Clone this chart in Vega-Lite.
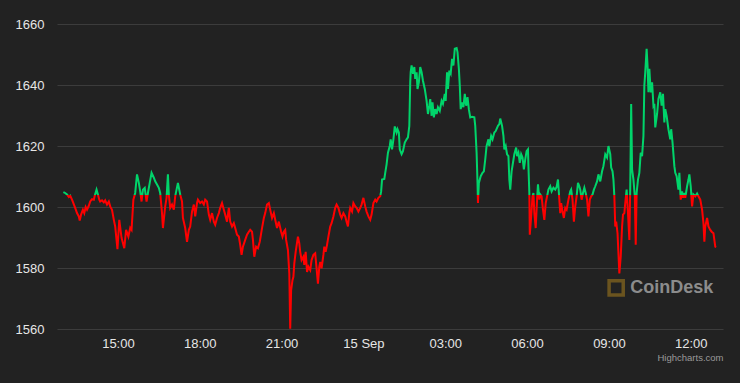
{
  "$schema": "https://vega.github.io/schema/vega-lite/v6.json",
  "width": 666,
  "height": 305,
  "autosize": {"type": "none"},
  "padding": {"left": 57, "top": 24, "right": 17, "bottom": 54},
  "background": "#222222",
  "config": {"view": {"stroke": null}},
  "layer": [
    {
      "data": {"values": [
        {"t":"2022-09-14T13:00","p":1604.9},{"t":"2022-09-14T13:04","p":1604.6},{"t":"2022-09-14T13:08","p":1604.1},{"t":"2022-09-14T13:12","p":1603.3},{"t":"2022-09-14T13:15","p":1603.7},{"t":"2022-09-14T13:19","p":1602.4},{"t":"2022-09-14T13:22","p":1601.3},{"t":"2022-09-14T13:26","p":1599.7},{"t":"2022-09-14T13:30","p":1598.0},{"t":"2022-09-14T13:34","p":1596.9},{"t":"2022-09-14T13:36","p":1595.6},{"t":"2022-09-14T13:39","p":1597.5},{"t":"2022-09-14T13:43","p":1599.1},{"t":"2022-09-14T13:46","p":1598.0},{"t":"2022-09-14T13:49","p":1600.0},{"t":"2022-09-14T13:52","p":1599.1},{"t":"2022-09-14T13:56","p":1600.4},{"t":"2022-09-14T13:59","p":1601.8},
        {"t":"2022-09-14T14:03","p":1602.6},{"t":"2022-09-14T14:07","p":1602.4},{"t":"2022-09-14T14:09","p":1603.7},{"t":"2022-09-14T14:13","p":1605.7},{"t":"2022-09-14T14:16","p":1604.1},{"t":"2022-09-14T14:19","p":1602.4},{"t":"2022-09-14T14:21","p":1601.8},{"t":"2022-09-14T14:25","p":1602.2},{"t":"2022-09-14T14:29","p":1601.5},{"t":"2022-09-14T14:32","p":1602.2},{"t":"2022-09-14T14:36","p":1600.8},{"t":"2022-09-14T14:40","p":1601.8},{"t":"2022-09-14T14:43","p":1600.2},{"t":"2022-09-14T14:47","p":1599.1},{"t":"2022-09-14T14:51","p":1595.8},{"t":"2022-09-14T14:54","p":1593.6},{"t":"2022-09-14T14:59","p":1586.2},
        {"t":"2022-09-14T15:03","p":1595.8},{"t":"2022-09-14T15:08","p":1589.9},{"t":"2022-09-14T15:14","p":1586.5},{"t":"2022-09-14T15:18","p":1592.5},{"t":"2022-09-14T15:23","p":1590.3},{"t":"2022-09-14T15:27","p":1593.2},{"t":"2022-09-14T15:30","p":1592.5},{"t":"2022-09-14T15:34","p":1602.4},{"t":"2022-09-14T15:38","p":1604.6},{"t":"2022-09-14T15:42","p":1610.7},{"t":"2022-09-14T15:46","p":1607.9},{"t":"2022-09-14T15:49","p":1605.1},{"t":"2022-09-14T15:52","p":1601.8},{"t":"2022-09-14T15:55","p":1605.7},{"t":"2022-09-14T15:59","p":1606.3},
        {"t":"2022-09-14T16:03","p":1601.8},{"t":"2022-09-14T16:06","p":1604.6},{"t":"2022-09-14T16:10","p":1607.9},{"t":"2022-09-14T16:14","p":1611.2},{"t":"2022-09-14T16:19","p":1609.6},{"t":"2022-09-14T16:22","p":1608.4},{"t":"2022-09-14T16:26","p":1607.4},{"t":"2022-09-14T16:30","p":1606.3},{"t":"2022-09-14T16:33","p":1604.6},{"t":"2022-09-14T16:37","p":1598.0},{"t":"2022-09-14T16:39","p":1593.1},{"t":"2022-09-14T16:44","p":1600.2},{"t":"2022-09-14T16:47","p":1603.0},{"t":"2022-09-14T16:50","p":1610.7},{"t":"2022-09-14T16:52","p":1604.1},{"t":"2022-09-14T16:55","p":1599.7},{"t":"2022-09-14T16:59","p":1600.8},
        {"t":"2022-09-14T17:03","p":1599.1},{"t":"2022-09-14T17:06","p":1603.5},{"t":"2022-09-14T17:12","p":1607.9},{"t":"2022-09-14T17:17","p":1604.1},{"t":"2022-09-14T17:21","p":1601.8},{"t":"2022-09-14T17:23","p":1596.4},{"t":"2022-09-14T17:28","p":1593.1},{"t":"2022-09-14T17:32","p":1588.6},{"t":"2022-09-14T17:36","p":1592.5},{"t":"2022-09-14T17:39","p":1593.6},{"t":"2022-09-14T17:43","p":1598.5},{"t":"2022-09-14T17:47","p":1600.8},{"t":"2022-09-14T17:50","p":1596.9},{"t":"2022-09-14T17:54","p":1601.3},{"t":"2022-09-14T17:56","p":1602.4},
        {"t":"2022-09-14T18:01","p":1601.3},{"t":"2022-09-14T18:05","p":1601.8},{"t":"2022-09-14T18:09","p":1600.8},{"t":"2022-09-14T18:12","p":1602.4},{"t":"2022-09-14T18:16","p":1601.8},{"t":"2022-09-14T18:20","p":1597.5},{"t":"2022-09-14T18:23","p":1595.8},{"t":"2022-09-14T18:27","p":1598.0},{"t":"2022-09-14T18:31","p":1595.2},{"t":"2022-09-14T18:34","p":1594.2},{"t":"2022-09-14T18:38","p":1596.4},{"t":"2022-09-14T18:42","p":1598.0},{"t":"2022-09-14T18:45","p":1599.7},{"t":"2022-09-14T18:49","p":1601.3},{"t":"2022-09-14T18:53","p":1599.1},{"t":"2022-09-14T18:56","p":1597.5},
        {"t":"2022-09-14T19:00","p":1595.2},{"t":"2022-09-14T19:04","p":1599.7},{"t":"2022-09-14T19:07","p":1595.2},{"t":"2022-09-14T19:11","p":1593.6},{"t":"2022-09-14T19:15","p":1594.7},{"t":"2022-09-14T19:18","p":1593.1},{"t":"2022-09-14T19:22","p":1590.9},{"t":"2022-09-14T19:26","p":1590.3},{"t":"2022-09-14T19:29","p":1587.6},{"t":"2022-09-14T19:32","p":1584.3},{"t":"2022-09-14T19:35","p":1587.0},{"t":"2022-09-14T19:40","p":1589.2},{"t":"2022-09-14T19:44","p":1590.9},{"t":"2022-09-14T19:48","p":1591.9},{"t":"2022-09-14T19:51","p":1592.5},{"t":"2022-09-14T19:55","p":1591.9},{"t":"2022-09-14T19:57","p":1589.2},
        {"t":"2022-09-14T20:00","p":1583.7},{"t":"2022-09-14T20:04","p":1587.0},{"t":"2022-09-14T20:08","p":1586.5},{"t":"2022-09-14T20:12","p":1588.6},{"t":"2022-09-14T20:17","p":1593.1},{"t":"2022-09-14T20:21","p":1596.4},{"t":"2022-09-14T20:24","p":1598.0},{"t":"2022-09-14T20:28","p":1600.8},{"t":"2022-09-14T20:32","p":1601.3},{"t":"2022-09-14T20:35","p":1599.1},{"t":"2022-09-14T20:39","p":1596.4},{"t":"2022-09-14T20:43","p":1598.0},{"t":"2022-09-14T20:46","p":1595.8},{"t":"2022-09-14T20:50","p":1593.1},{"t":"2022-09-14T20:54","p":1595.2},{"t":"2022-09-14T20:59","p":1591.9},
        {"t":"2022-09-14T21:02","p":1590.3},{"t":"2022-09-14T21:05","p":1591.9},{"t":"2022-09-14T21:08","p":1592.5},{"t":"2022-09-14T21:10","p":1589.2},{"t":"2022-09-14T21:14","p":1585.9},{"t":"2022-09-14T21:17","p":1578.2},{"t":"2022-09-14T21:19","p":1560.1},{"t":"2022-09-14T21:21","p":1572.7},{"t":"2022-09-14T21:24","p":1576.0},{"t":"2022-09-14T21:26","p":1577.1},{"t":"2022-09-14T21:28","p":1581.5},{"t":"2022-09-14T21:31","p":1585.3},{"t":"2022-09-14T21:36","p":1590.3},{"t":"2022-09-14T21:39","p":1588.1},{"t":"2022-09-14T21:41","p":1585.3},{"t":"2022-09-14T21:44","p":1582.6},{"t":"2022-09-14T21:48","p":1583.7},{"t":"2022-09-14T21:50","p":1581.0},{"t":"2022-09-14T21:53","p":1585.3},{"t":"2022-09-14T21:56","p":1578.7},{"t":"2022-09-14T21:59","p":1580.4},
        {"t":"2022-09-14T22:03","p":1579.3},{"t":"2022-09-14T22:06","p":1582.6},{"t":"2022-09-14T22:10","p":1584.3},{"t":"2022-09-14T22:14","p":1584.8},{"t":"2022-09-14T22:17","p":1579.9},{"t":"2022-09-14T22:20","p":1574.9},{"t":"2022-09-14T22:23","p":1580.4},{"t":"2022-09-14T22:25","p":1582.0},{"t":"2022-09-14T22:28","p":1579.9},{"t":"2022-09-14T22:32","p":1584.3},{"t":"2022-09-14T22:34","p":1587.0},{"t":"2022-09-14T22:37","p":1585.3},{"t":"2022-09-14T22:40","p":1587.6},{"t":"2022-09-14T22:43","p":1590.3},{"t":"2022-09-14T22:47","p":1593.6},{"t":"2022-09-14T22:50","p":1594.7},{"t":"2022-09-14T22:54","p":1596.9},{"t":"2022-09-14T22:58","p":1599.7},
        {"t":"2022-09-14T23:01","p":1600.8},{"t":"2022-09-14T23:05","p":1599.7},{"t":"2022-09-14T23:09","p":1597.5},{"t":"2022-09-14T23:12","p":1596.4},{"t":"2022-09-14T23:16","p":1598.0},{"t":"2022-09-14T23:20","p":1596.9},{"t":"2022-09-14T23:23","p":1595.2},{"t":"2022-09-14T23:26","p":1593.6},{"t":"2022-09-14T23:29","p":1598.0},{"t":"2022-09-14T23:31","p":1599.7},{"t":"2022-09-14T23:35","p":1598.5},{"t":"2022-09-14T23:38","p":1601.3},{"t":"2022-09-14T23:42","p":1600.2},{"t":"2022-09-14T23:45","p":1599.7},{"t":"2022-09-14T23:49","p":1598.5},{"t":"2022-09-14T23:53","p":1599.7},{"t":"2022-09-14T23:56","p":1600.8},
        {"t":"2022-09-15T00:00","p":1603.0},{"t":"2022-09-15T00:04","p":1600.2},{"t":"2022-09-15T00:07","p":1598.5},{"t":"2022-09-15T00:11","p":1596.9},{"t":"2022-09-15T00:15","p":1595.8},{"t":"2022-09-15T00:18","p":1597.5},{"t":"2022-09-15T00:22","p":1601.3},{"t":"2022-09-15T00:26","p":1602.4},{"t":"2022-09-15T00:29","p":1601.8},{"t":"2022-09-15T00:33","p":1603.0},{"t":"2022-09-15T00:37","p":1603.5},{"t":"2022-09-15T00:39","p":1605.1},{"t":"2022-09-15T00:41","p":1609.0},{"t":"2022-09-15T00:46","p":1609.2},{"t":"2022-09-15T00:48","p":1611.2},{"t":"2022-09-15T00:51","p":1614.0},{"t":"2022-09-15T00:54","p":1617.8},{"t":"2022-09-15T00:58","p":1620.0},
        {"t":"2022-09-15T01:00","p":1622.2},{"t":"2022-09-15T01:03","p":1618.9},{"t":"2022-09-15T01:06","p":1622.2},{"t":"2022-09-15T01:09","p":1626.4},{"t":"2022-09-15T01:13","p":1624.4},{"t":"2022-09-15T01:15","p":1625.5},{"t":"2022-09-15T01:18","p":1624.4},{"t":"2022-09-15T01:20","p":1618.9},{"t":"2022-09-15T01:24","p":1617.3},{"t":"2022-09-15T01:27","p":1618.3},{"t":"2022-09-15T01:31","p":1621.1},{"t":"2022-09-15T01:35","p":1622.2},{"t":"2022-09-15T01:38","p":1622.8},{"t":"2022-09-15T01:41","p":1626.6},{"t":"2022-09-15T01:43","p":1640.9},{"t":"2022-09-15T01:44","p":1644.2},{"t":"2022-09-15T01:46","p":1646.4},{"t":"2022-09-15T01:49","p":1643.7},{"t":"2022-09-15T01:52","p":1645.9},{"t":"2022-09-15T01:54","p":1642.0},{"t":"2022-09-15T01:57","p":1644.2},{"t":"2022-09-15T01:59","p":1638.7},
        {"t":"2022-09-15T02:02","p":1640.9},{"t":"2022-09-15T02:05","p":1645.9},{"t":"2022-09-15T02:08","p":1644.2},{"t":"2022-09-15T02:11","p":1641.4},{"t":"2022-09-15T02:15","p":1638.7},{"t":"2022-09-15T02:19","p":1634.8},{"t":"2022-09-15T02:22","p":1630.5},{"t":"2022-09-15T02:25","p":1633.2},{"t":"2022-09-15T02:27","p":1635.4},{"t":"2022-09-15T02:30","p":1629.9},{"t":"2022-09-15T02:32","p":1634.3},{"t":"2022-09-15T02:35","p":1629.4},{"t":"2022-09-15T02:38","p":1632.1},{"t":"2022-09-15T02:41","p":1630.5},{"t":"2022-09-15T02:44","p":1632.7},{"t":"2022-09-15T02:48","p":1631.5},{"t":"2022-09-15T02:52","p":1634.8},{"t":"2022-09-15T02:55","p":1633.8},{"t":"2022-09-15T02:59","p":1637.1},
        {"t":"2022-09-15T03:01","p":1634.8},{"t":"2022-09-15T03:04","p":1644.2},{"t":"2022-09-15T03:06","p":1638.7},{"t":"2022-09-15T03:09","p":1644.7},{"t":"2022-09-15T03:12","p":1643.7},{"t":"2022-09-15T03:15","p":1648.6},{"t":"2022-09-15T03:18","p":1646.4},{"t":"2022-09-15T03:21","p":1651.9},{"t":"2022-09-15T03:25","p":1652.1},{"t":"2022-09-15T03:27","p":1650.8},{"t":"2022-09-15T03:30","p":1645.3},{"t":"2022-09-15T03:32","p":1639.8},{"t":"2022-09-15T03:34","p":1632.1},{"t":"2022-09-15T03:37","p":1634.3},{"t":"2022-09-15T03:40","p":1632.7},{"t":"2022-09-15T03:43","p":1637.1},{"t":"2022-09-15T03:46","p":1633.2},{"t":"2022-09-15T03:49","p":1636.0},{"t":"2022-09-15T03:52","p":1632.0},{"t":"2022-09-15T03:55","p":1629.4},{"t":"2022-09-15T03:59","p":1629.6},
        {"t":"2022-09-15T04:04","p":1629.4},{"t":"2022-09-15T04:06","p":1626.6},{"t":"2022-09-15T04:09","p":1617.8},{"t":"2022-09-15T04:11","p":1607.9},{"t":"2022-09-15T04:12","p":1601.3},{"t":"2022-09-15T04:14","p":1607.9},{"t":"2022-09-15T04:18","p":1610.1},{"t":"2022-09-15T04:22","p":1611.2},{"t":"2022-09-15T04:25","p":1611.7},{"t":"2022-09-15T04:28","p":1615.6},{"t":"2022-09-15T04:31","p":1620.0},{"t":"2022-09-15T04:35","p":1622.2},{"t":"2022-09-15T04:37","p":1620.0},{"t":"2022-09-15T04:41","p":1623.3},{"t":"2022-09-15T04:44","p":1622.2},{"t":"2022-09-15T04:48","p":1624.4},{"t":"2022-09-15T04:51","p":1624.9},{"t":"2022-09-15T04:56","p":1626.6},{"t":"2022-09-15T04:59","p":1627.2},
        {"t":"2022-09-15T05:01","p":1629.0},{"t":"2022-09-15T05:05","p":1626.6},{"t":"2022-09-15T05:08","p":1623.3},{"t":"2022-09-15T05:10","p":1618.9},{"t":"2022-09-15T05:13","p":1620.0},{"t":"2022-09-15T05:16","p":1617.3},{"t":"2022-09-15T05:19","p":1616.7},{"t":"2022-09-15T05:21","p":1609.0},{"t":"2022-09-15T05:23","p":1605.7},{"t":"2022-09-15T05:26","p":1611.7},{"t":"2022-09-15T05:29","p":1614.5},{"t":"2022-09-15T05:32","p":1617.3},{"t":"2022-09-15T05:36","p":1619.5},{"t":"2022-09-15T05:38","p":1616.7},{"t":"2022-09-15T05:41","p":1617.8},{"t":"2022-09-15T05:44","p":1614.5},{"t":"2022-09-15T05:47","p":1617.3},{"t":"2022-09-15T05:50","p":1616.2},{"t":"2022-09-15T05:53","p":1612.3},{"t":"2022-09-15T05:56","p":1615.6},{"t":"2022-09-15T05:59","p":1618.3},
        {"t":"2022-09-15T06:02","p":1618.9},{"t":"2022-09-15T06:03","p":1613.4},{"t":"2022-09-15T06:05","p":1604.6},{"t":"2022-09-15T06:06","p":1590.9},{"t":"2022-09-15T06:09","p":1596.9},{"t":"2022-09-15T06:12","p":1603.5},{"t":"2022-09-15T06:14","p":1604.6},{"t":"2022-09-15T06:16","p":1598.0},{"t":"2022-09-15T06:19","p":1593.1},{"t":"2022-09-15T06:22","p":1602.4},{"t":"2022-09-15T06:24","p":1607.4},{"t":"2022-09-15T06:27","p":1602.4},{"t":"2022-09-15T06:29","p":1604.1},{"t":"2022-09-15T06:32","p":1603.5},{"t":"2022-09-15T06:35","p":1599.1},{"t":"2022-09-15T06:38","p":1595.8},{"t":"2022-09-15T06:41","p":1601.3},{"t":"2022-09-15T06:44","p":1603.5},{"t":"2022-09-15T06:47","p":1605.7},{"t":"2022-09-15T06:51","p":1606.8},{"t":"2022-09-15T06:54","p":1605.1},{"t":"2022-09-15T06:58","p":1606.3},
        {"t":"2022-09-15T07:02","p":1605.7},{"t":"2022-09-15T07:05","p":1606.6},{"t":"2022-09-15T07:08","p":1609.0},{"t":"2022-09-15T07:11","p":1602.4},{"t":"2022-09-15T07:13","p":1598.0},{"t":"2022-09-15T07:15","p":1601.3},{"t":"2022-09-15T07:18","p":1598.5},{"t":"2022-09-15T07:21","p":1596.4},{"t":"2022-09-15T07:24","p":1599.7},{"t":"2022-09-15T07:27","p":1599.1},{"t":"2022-09-15T07:31","p":1602.4},{"t":"2022-09-15T07:35","p":1605.1},{"t":"2022-09-15T07:37","p":1605.7},{"t":"2022-09-15T07:40","p":1602.4},{"t":"2022-09-15T07:43","p":1595.2},{"t":"2022-09-15T07:46","p":1600.2},{"t":"2022-09-15T07:49","p":1603.5},{"t":"2022-09-15T07:52","p":1607.9},{"t":"2022-09-15T07:55","p":1606.8},{"t":"2022-09-15T07:57","p":1605.7},
        {"t":"2022-09-15T08:00","p":1602.4},{"t":"2022-09-15T08:03","p":1604.6},{"t":"2022-09-15T08:06","p":1606.3},{"t":"2022-09-15T08:09","p":1604.6},{"t":"2022-09-15T08:12","p":1602.4},{"t":"2022-09-15T08:15","p":1596.9},{"t":"2022-09-15T08:18","p":1602.4},{"t":"2022-09-15T08:21","p":1603.5},{"t":"2022-09-15T08:24","p":1604.1},{"t":"2022-09-15T08:27","p":1605.7},{"t":"2022-09-15T08:30","p":1606.8},{"t":"2022-09-15T08:34","p":1608.4},{"t":"2022-09-15T08:37","p":1610.7},{"t":"2022-09-15T08:41","p":1608.4},{"t":"2022-09-15T08:45","p":1611.7},{"t":"2022-09-15T08:48","p":1613.4},{"t":"2022-09-15T08:52","p":1617.3},{"t":"2022-09-15T08:56","p":1616.2},{"t":"2022-09-15T08:59","p":1620.0},
        {"t":"2022-09-15T09:03","p":1617.3},{"t":"2022-09-15T09:05","p":1612.9},{"t":"2022-09-15T09:08","p":1611.7},{"t":"2022-09-15T09:10","p":1609.0},{"t":"2022-09-15T09:12","p":1603.5},{"t":"2022-09-15T09:14","p":1593.6},{"t":"2022-09-15T09:16","p":1595.2},{"t":"2022-09-15T09:19","p":1591.4},{"t":"2022-09-15T09:21","p":1584.8},{"t":"2022-09-15T09:23","p":1578.2},{"t":"2022-09-15T09:26","p":1583.7},{"t":"2022-09-15T09:29","p":1593.6},{"t":"2022-09-15T09:31","p":1597.5},{"t":"2022-09-15T09:34","p":1598.0},{"t":"2022-09-15T09:36","p":1601.3},{"t":"2022-09-15T09:39","p":1605.7},{"t":"2022-09-15T09:42","p":1598.0},{"t":"2022-09-15T09:45","p":1589.2},{"t":"2022-09-15T09:47","p":1606.8},{"t":"2022-09-15T09:49","p":1633.8},{"t":"2022-09-15T09:51","p":1612.3},{"t":"2022-09-15T09:54","p":1609.0},{"t":"2022-09-15T09:57","p":1603.5},{"t":"2022-09-15T09:59","p":1587.6},
        {"t":"2022-09-15T10:01","p":1604.6},{"t":"2022-09-15T10:04","p":1609.0},{"t":"2022-09-15T10:07","p":1611.2},{"t":"2022-09-15T10:10","p":1617.8},{"t":"2022-09-15T10:13","p":1616.7},{"t":"2022-09-15T10:16","p":1623.3},{"t":"2022-09-15T10:18","p":1639.8},{"t":"2022-09-15T10:20","p":1644.2},{"t":"2022-09-15T10:23","p":1651.9},{"t":"2022-09-15T10:25","p":1646.4},{"t":"2022-09-15T10:27","p":1637.6},{"t":"2022-09-15T10:29","p":1645.3},{"t":"2022-09-15T10:32","p":1637.6},{"t":"2022-09-15T10:35","p":1640.9},{"t":"2022-09-15T10:38","p":1633.2},{"t":"2022-09-15T10:40","p":1633.8},{"t":"2022-09-15T10:42","p":1626.1},{"t":"2022-09-15T10:46","p":1630.5},{"t":"2022-09-15T10:49","p":1635.4},{"t":"2022-09-15T10:53","p":1637.6},{"t":"2022-09-15T10:56","p":1633.2},{"t":"2022-09-15T10:59","p":1637.1},
        {"t":"2022-09-15T11:02","p":1627.7},{"t":"2022-09-15T11:04","p":1632.1},{"t":"2022-09-15T11:07","p":1629.9},{"t":"2022-09-15T11:11","p":1625.5},{"t":"2022-09-15T11:15","p":1622.2},{"t":"2022-09-15T11:17","p":1625.5},{"t":"2022-09-15T11:20","p":1621.1},{"t":"2022-09-15T11:24","p":1613.4},{"t":"2022-09-15T11:26","p":1611.2},{"t":"2022-09-15T11:29","p":1610.1},{"t":"2022-09-15T11:33","p":1605.7},{"t":"2022-09-15T11:35","p":1611.2},{"t":"2022-09-15T11:38","p":1602.4},{"t":"2022-09-15T11:41","p":1605.1},{"t":"2022-09-15T11:43","p":1603.0},{"t":"2022-09-15T11:46","p":1604.6},{"t":"2022-09-15T11:48","p":1603.0},{"t":"2022-09-15T11:52","p":1606.8},{"t":"2022-09-15T11:55","p":1609.0},{"t":"2022-09-15T11:57","p":1610.7},
        {"t":"2022-09-15T12:00","p":1606.8},{"t":"2022-09-15T12:03","p":1600.2},{"t":"2022-09-15T12:06","p":1604.1},{"t":"2022-09-15T12:10","p":1603.5},{"t":"2022-09-15T12:14","p":1604.4},{"t":"2022-09-15T12:17","p":1603.5},{"t":"2022-09-15T12:21","p":1602.4},{"t":"2022-09-15T12:25","p":1599.1},{"t":"2022-09-15T12:28","p":1594.7},{"t":"2022-09-15T12:30","p":1588.6},{"t":"2022-09-15T12:32","p":1593.6},{"t":"2022-09-15T12:36","p":1596.4},{"t":"2022-09-15T12:39","p":1593.6},{"t":"2022-09-15T12:43","p":1592.5},{"t":"2022-09-15T12:46","p":1591.9},{"t":"2022-09-15T12:50","p":1591.4},{"t":"2022-09-15T12:54","p":1587.0},{"t":"2022-09-15T12:56","p":1586.8}
      ]},
      "mark": {
        "type": "line",
        "strokeWidth": 2,
        "stroke": {
          "gradient": "linear",
          "x1": 0, "y1": 0, "x2": 0, "y2": 1,
          "stops": [
            {"offset": 0, "color": "#00d46a"},
            {"offset": 0.5228, "color": "#00d46a"},
            {"offset": 0.5228, "color": "#ff0000"},
            {"offset": 1, "color": "#ff0000"}
          ]
        }
      },
      "encoding": {
        "x": {
          "field": "t", "type": "temporal",
          "scale": {"domain": [
            {"year": 2022, "month": 9, "date": 14, "hours": 12, "minutes": 46},
            {"year": 2022, "month": 9, "date": 15, "hours": 13, "minutes": 11}
          ]},
          "axis": {
            "title": "Highcharts.com",
            "titleColor": "#9a9a9a",
            "titleFontSize": 9.5,
            "titleFontWeight": "normal",
            "titleAnchor": "end",
            "titleAlign": "right",
            "titlePadding": 2,
            "labelColor": "#e6e6e6",
            "labelFontSize": 13,
            "labelPadding": 8,
            "labelFlush": false,
            "ticks": false,
            "domain": false,
            "grid": false,
            "values": [
              {"year": 2022, "month": 9, "date": 14, "hours": 15},
              {"year": 2022, "month": 9, "date": 14, "hours": 18},
              {"year": 2022, "month": 9, "date": 14, "hours": 21},
              {"year": 2022, "month": 9, "date": 15, "hours": 0},
              {"year": 2022, "month": 9, "date": 15, "hours": 3},
              {"year": 2022, "month": 9, "date": 15, "hours": 6},
              {"year": 2022, "month": 9, "date": 15, "hours": 9},
              {"year": 2022, "month": 9, "date": 15, "hours": 12}
            ],
            "labelExpr": "timeFormat(datum.value, '%H') == '00' ? timeFormat(datum.value, '%-d %b') : timeFormat(datum.value, '%H:%M')"
          }
        },
        "y": {
          "field": "p", "type": "quantitative",
          "scale": {"domain": [1560, 1660], "nice": false, "zero": false},
          "axis": {
            "title": null,
            "values": [1560, 1580, 1600, 1620, 1640, 1660],
            "format": "d",
            "labelColor": "#e6e6e6",
            "labelFontSize": 13,
            "labelPadding": 13,
            "labelFlush": false,
            "ticks": false,
            "domain": false,
            "grid": true,
            "gridColor": "#3c3c3c",
            "gridWidth": 1
          }
        }
      }
    },
    {
      "data": {"values": [{"t": "2022-09-15T09:16", "p": 1573.5}]},
      "mark": {"type": "point", "shape": "square", "size": 200, "filled": false, "stroke": "#8a6a1e", "strokeWidth": 3.5},
      "encoding": {
        "x": {"field": "t", "type": "temporal"},
        "y": {"field": "p", "type": "quantitative"}
      }
    },
    {
      "data": {"values": [{"t": "2022-09-15T09:47", "p": 1573.5, "label": "CoinDesk"}]},
      "mark": {"type": "text", "align": "left", "baseline": "middle", "fontSize": 18, "fontWeight": "bold", "fill": "#8c8c8c"},
      "encoding": {
        "x": {"field": "t", "type": "temporal"},
        "y": {"field": "p", "type": "quantitative"},
        "text": {"field": "label"}
      }
    }
  ]
}
